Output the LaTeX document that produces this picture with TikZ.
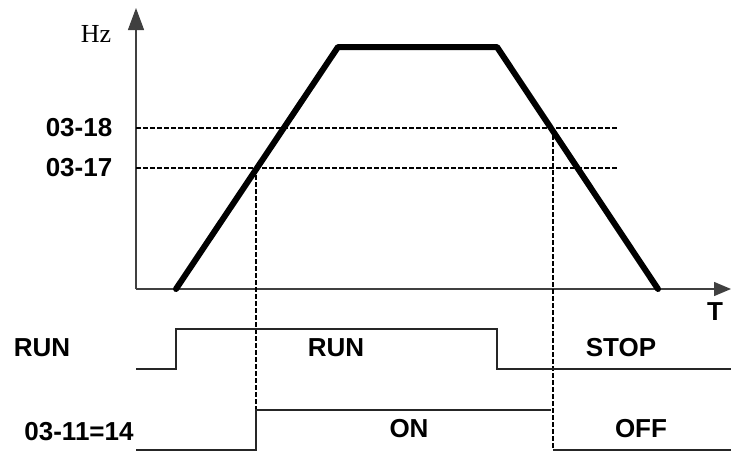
\documentclass[tikz,border=0pt]{standalone}
\usepackage{fontspec}
\setmainfont{Liberation Sans}
\newfontfamily\hzfont{Liberation Serif}
\usetikzlibrary{arrows.meta}
\begin{document}
\begin{tikzpicture}[x=1pt,y=-1pt,
  lbl/.style={font=\fontsize{26}{26}\selectfont\bfseries, inner sep=0pt, anchor=center},
  axisline/.style={line width=1.3pt, draw=black!75},
  sigline/.style={line width=1.1pt, draw=black!85},
  guide/.style={line width=1.1pt, dash pattern=on 4.5pt off 2.5pt},
  ramp/.style={line width=6pt, line join=round, line cap=round}]
\useasboundingbox (0,0) rectangle (731,455);
% coordinates
\coordinate (O) at (136,289);
\coordinate (Ytop) at (136,8);
\coordinate (Xend) at (731,289);
\coordinate (r1) at (176,289);
\coordinate (r2) at (338,47);
\coordinate (r3) at (497,47);
\coordinate (r4) at (658,289);
% axes
\draw[axisline,-{Triangle[length=22pt,width=16pt]}] (O) -- (Ytop);
\draw[axisline,-{Triangle[length=17pt,width=14pt]}] (O) -- (Xend);
% guides
\coordinate (g18a) at (136,128);
\coordinate (g18b) at (618,128);
\coordinate (g17a) at (136,168);
\coordinate (g17b) at (618,168);
\draw[guide] (g18a) -- (g18b);
\draw[guide] (g17a) -- (g17b);
\coordinate (v1a) at (256,168);
\coordinate (v1b) at (256,410);
\coordinate (v2a) at (553,128);
\coordinate (v2b) at (553,450);
\draw[guide] (v1a) -- (v1b);
\draw[guide] (v2a) -- (v2b);
% ramp
\draw[ramp] (r1) -- (r2) -- (r3) -- (r4);
% RUN signal
\coordinate (s1) at (136,369);
\coordinate (s2) at (176,369);
\coordinate (s3) at (176,329);
\coordinate (s4) at (497,329);
\coordinate (s5) at (497,369);
\coordinate (s6) at (731,369);
\draw[sigline] (s1) -- (s2) -- (s3) -- (s4) -- (s5) -- (s6);
% 03-11 signal
\coordinate (q1) at (136,450);
\coordinate (q2) at (256,450);
\coordinate (q3) at (256,410);
\coordinate (q4) at (551,410);
\coordinate (q5) at (553,450);
\coordinate (q6) at (731,450);
\draw[sigline] (q1) -- (q2) -- (q3) -- (q4);
\draw[sigline] (q5) -- (q6);
% labels
\node[inner sep=0pt, font=\hzfont\fontsize{26}{26}\selectfont] (hz) at (96,33.5) {Hz};
\node[lbl] (l18) at (79,128) {03-18};
\node[lbl] (l17) at (79,168) {03-17};
\node[lbl] (lt) at (715,312) {T};
\node[lbl] (lrun) at (42,348) {RUN};
\node[lbl] (lrunm) at (336,348) {RUN};
\node[lbl] (lstop) at (621,348) {STOP};
\node[lbl] (lsig) at (79,432) {03-11=14};
\node[lbl] (lon) at (409,429) {ON};
\node[lbl] (loff) at (641,429) {OFF};
\end{tikzpicture}
\end{document}
